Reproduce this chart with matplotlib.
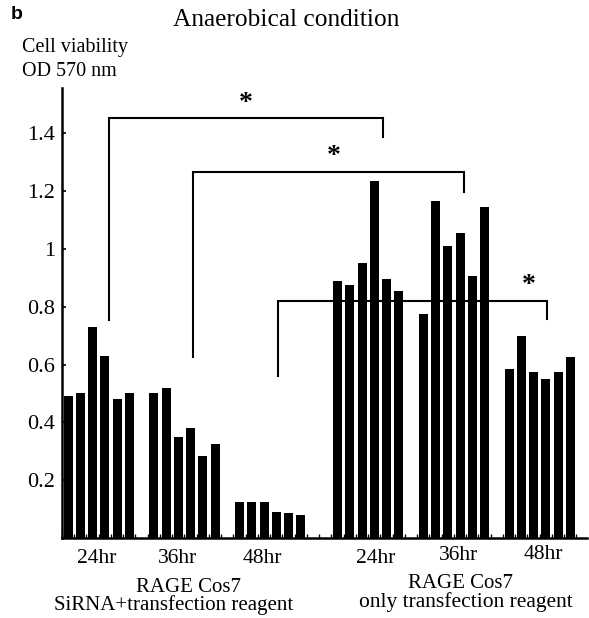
import numpy as np
import matplotlib
matplotlib.use("Agg")
import matplotlib.pyplot as plt
from matplotlib.transforms import blended_transform_factory

# cell viability (OD 570 nm), six wells per time point
sirna_24 = [0.49, 0.50, 0.73, 0.63, 0.48, 0.50]
sirna_36 = [0.50, 0.52, 0.35, 0.38, 0.285, 0.325]
sirna_48 = [0.125, 0.125, 0.125, 0.09, 0.087, 0.08]
reagent_24 = [0.89, 0.875, 0.95, 1.235, 0.895, 0.855]
reagent_36 = [0.775, 1.165, 1.01, 1.055, 0.905, 1.145]
reagent_48 = [0.585, 0.70, 0.575, 0.55, 0.575, 0.625]

groups = [sirna_24, sirna_36, sirna_48, reagent_24, reagent_36, reagent_48]
time_labels = ["24hr", "36hr", "48hr", "24hr", "36hr", "48hr"]
yticks = [0.2, 0.4, 0.6, 0.8, 1, 1.2, 1.4]

# layout (slot units): first bar of each group, label nudges, label baselines (px)
group_start = [0, 7, 14, 22, 29, 36]
label_dx = [-0.2, -0.6, -0.65, 0.6, 0.4, 0.3]
label_base = [563, 563, 563, 563, 560, 559]

W, H = 589, 618
plt.rcParams['font.family'] = ['Liberation Serif', 'DejaVu Serif']

fig = plt.figure(figsize=(W / 100, H / 100), dpi=100)
ax = fig.add_axes([62 / W, 1 - 538 / H, 525 / W, 450 / H])

for start, vals in zip(group_start, groups):
    xs = start + np.arange(len(vals))
    ax.bar(xs, vals, width=0.73, color='black')

ax.set_xlim(-0.33, 42.36)
ax.set_ylim(0, 1.557)

for s in ['top', 'right']:
    ax.spines[s].set_visible(False)
ax.spines['left'].set_linewidth(1.8)
ax.spines['bottom'].set_linewidth(1.8)

ax.set_yticks(yticks)
ax.set_yticklabels([f"{v:g}" for v in yticks], fontsize=16)
ax.tick_params(axis='y', direction='in', length=3, width=1.2, pad=5)
ax.set_xticks(np.arange(-0.5, 42.5, 1))
ax.set_xticklabels([])
ax.tick_params(axis='x', direction='in', length=3, width=1)

tr = blended_transform_factory(ax.transData, fig.transFigure)
for start, vals, dx, base, t in zip(group_start, groups, label_dx, label_base, time_labels):
    xc = start + (len(vals) - 1) / 2 + dx
    ax.text(xc, 1 - base / H, t, transform=tr, ha='center', va='baseline',
            fontsize=15.5, clip_on=False)

# significance brackets: (left x, right x, bar y, left foot, right foot)
brackets = [(3.3, 25.7, 1.453, 0.754, 1.388),
            (10.2, 32.3, 1.267, 0.626, 1.197),
            (17.1, 39.1, 0.821, 0.56, 0.758)]
stars = [(14.5, 1.505), (21.7, 1.32), (37.6, 0.875)]
for x0, x1, y, f0, f1 in brackets:
    ax.plot([x0, x0, x1, x1], [f0, y, y, f1], color='black', lw=1.5,
            solid_joinstyle='miter', clip_on=False)
for x, y in stars:
    ax.text(x, y, "*", ha='center', va='center', fontsize=20, fontweight='bold')

fig.text(11 / W, 1 - 19 / H, "b", fontsize=14, fontweight='bold',
         family='Liberation Sans', ha='left', va='baseline')
fig.text(286 / W, 1 - 26 / H, "Anaerobical condition", fontsize=18.3,
         ha='center', va='baseline')
fig.text(22 / W, 1 - 52 / H, "Cell viability", fontsize=14.5, ha='left', va='baseline')
fig.text(22 / W, 1 - 76 / H, "OD 570 nm", fontsize=14.5, ha='left', va='baseline')

fig.text(189 / W, 1 - 592 / H, "RAGE Cos7", fontsize=15, ha='center', va='baseline')
fig.text(174 / W, 1 - 610 / H, "SiRNA+transfection reagent", fontsize=15,
         ha='center', va='baseline')
fig.text(461 / W, 1 - 588 / H, "RAGE Cos7", fontsize=15, ha='center', va='baseline')
fig.text(466 / W, 1 - 607 / H, "only transfection reagent", fontsize=15.5,
         ha='center', va='baseline')

fig.savefig("out.png", dpi=100)
